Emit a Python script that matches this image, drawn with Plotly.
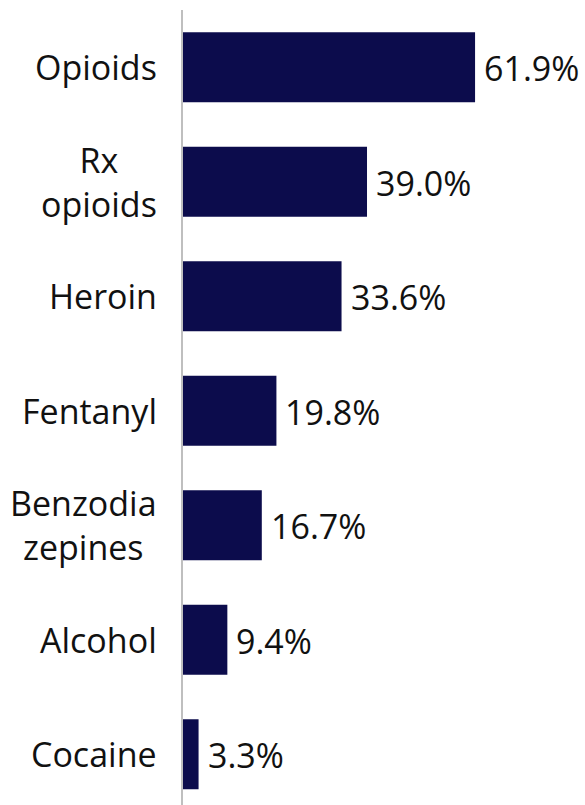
import plotly.graph_objects as go

categories = ["Opioids", "Rx<br>opioids", "Heroin", "Fentanyl", "Benzodia<br>zepines", "Alcohol", "Cocaine"]
values = [61.9, 39.0, 33.6, 19.8, 16.7, 9.4, 3.3]
value_labels = ["61.9%", "39.0%", "33.6%", "19.8%", "16.7%", "9.4%", "3.3%"]

FONT = "Open Sans"
SIZE = 34
pos = list(range(len(categories)))

fig = go.Figure(go.Bar(
    x=values, y=pos, orientation="h",
    marker=dict(color="#0c0c4c", line=dict(width=0)),
    hoverinfo="skip",
))

annotations = []
for i, (cat, v, lab) in enumerate(zip(categories, values, value_labels)):
    annotations.append(dict(
        xref="paper", x=0, yref="y", y=i, text=cat, showarrow=False,
        xanchor="right", yanchor="middle", align="center", xshift=-24,
        font=dict(family=FONT, size=SIZE, color="#111111"),
    ))
    annotations.append(dict(
        xref="x", x=v, yref="y", y=i, text=lab, showarrow=False,
        xanchor="left", yanchor="middle", xshift=7, yshift=-1,
        font=dict(family=FONT, size=SIZE, color="#111111"),
    ))

fig.update_layout(
    width=585, height=805, margin=dict(l=183, r=0, t=10, b=0),
    paper_bgcolor="white", plot_bgcolor="white", showlegend=False,
    bargap=0.39, annotations=annotations,
    font=dict(family=FONT, size=SIZE, color="#111111"),
)
fig.update_xaxes(range=[0, 85.2], visible=False)
fig.update_yaxes(
    range=[6.443, -0.5], tickvals=pos, showticklabels=False,
    showline=True, linecolor="#bfbfbf", linewidth=2,
    showgrid=False, zeroline=False, ticks="",
)
fig.write_html("out.html")
